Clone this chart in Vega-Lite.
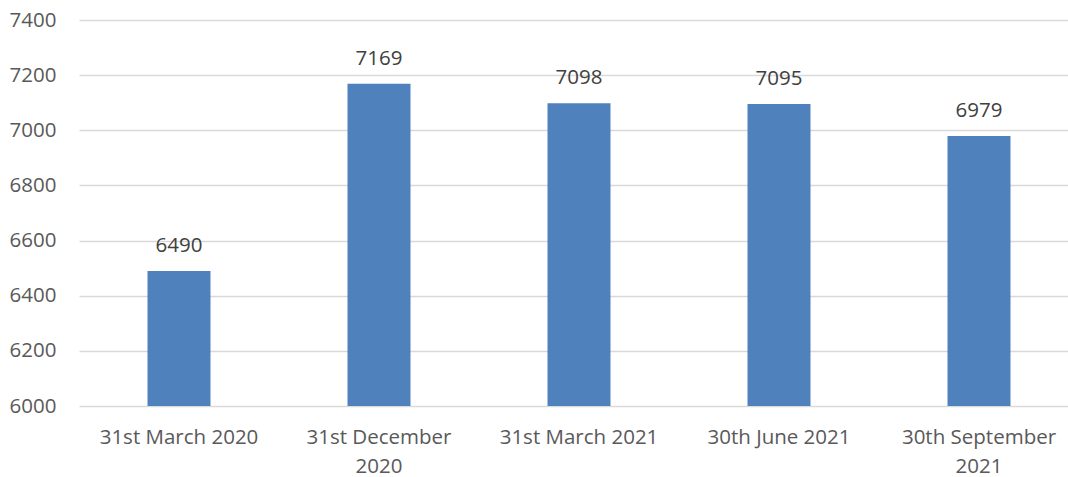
{
  "$schema": "https://vega.github.io/schema/vega-lite/v6.json",
  "width": 1000,
  "height": 386,
  "autosize": {"type": "none"},
  "padding": {"left": 79, "top": 20, "right": 0, "bottom": 71},
  "background": "white",
  "config": {"view": {"stroke": null}, "font": "Open Sans"},
  "data": {
    "values": [
      {"date": "31st March 2020", "value": 6490},
      {"date": "31st December 2020", "value": 7169},
      {"date": "31st March 2021", "value": 7098},
      {"date": "30th June 2021", "value": 7095},
      {"date": "30th September 2021", "value": 6979}
    ]
  },
  "encoding": {
    "x": {
      "field": "date",
      "type": "nominal",
      "sort": null,
      "scale": {"paddingInner": 0, "paddingOuter": 0},
      "axis": {
        "title": null,
        "labelAngle": 0,
        "labelFont": "Open Sans",
        "labelFontSize": 20.5,
        "labelColor": "#595959",
        "labelPadding": 21,
        "labelLineHeight": 29,
        "labelBaseline": "top",
        "ticks": false,
        "domain": false,
        "grid": false,
        "labelExpr": "datum.label == '31st December 2020' ? ['31st December', '2020'] : datum.label == '30th September 2021' ? ['30th September', '2021'] : datum.label"
      }
    },
    "y": {
      "field": "value",
      "type": "quantitative",
      "scale": {"domain": [6000, 7400], "zero": false, "nice": false},
      "axis": {
        "title": null,
        "values": [6000, 6200, 6400, 6600, 6800, 7000, 7200, 7400],
        "format": "d",
        "labelFont": "Open Sans",
        "labelFontSize": 20.5,
        "labelColor": "#595959",
        "labelPadding": 23,
        "ticks": false,
        "domain": false,
        "grid": true,
        "gridColor": "#D9D9D9",
        "gridWidth": 1.5
      }
    }
  },
  "layer": [
    {
      "mark": {"type": "bar", "color": "#4F81BD", "width": {"band": 0.315}},
      "encoding": {"y2": {"datum": 6000}}
    },
    {
      "mark": {
        "type": "text",
        "font": "Open Sans",
        "fontSize": 20.5,
        "color": "#404040",
        "baseline": "alphabetic",
        "dy": -19
      },
      "encoding": {"text": {"field": "value", "type": "quantitative", "format": "d"}}
    }
  ]
}
